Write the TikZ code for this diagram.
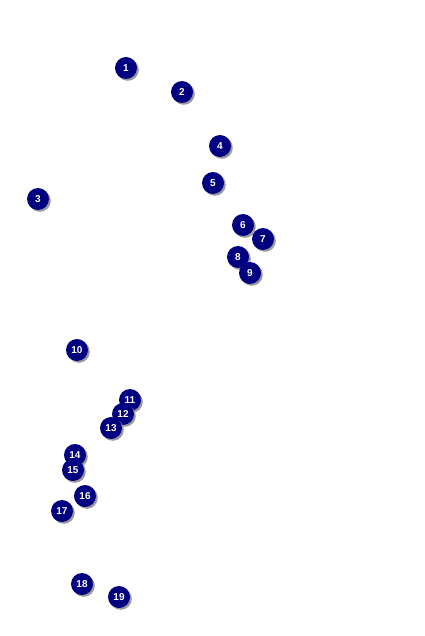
\documentclass[tikz,border=0pt]{standalone}
\usepackage{fontspec}
\setmainfont{Liberation Sans}
\definecolor{navy}{HTML}{000080}
\definecolor{shade}{HTML}{9A9A9A}
\usetikzlibrary{shadows}
\tikzset{
  marker/.style={circle, fill=navy, minimum size=22pt, inner sep=0pt,
    text=white, font=\fontsize{10}{10}\selectfont\bfseries,
    drop shadow={shadow xshift=1.8pt, shadow yshift=-1.8pt, fill=shade, opacity=1}}
}
\begin{document}
\begin{tikzpicture}[x=1pt,y=-1pt]
\useasboundingbox (0,0) rectangle (424,636);
\fill[white] (0,0) rectangle (424,636);
\node[marker] (n1) at (126,68) {1};
\node[marker] (n2) at (182,92) {2};
\node[marker] (n3) at (38,199) {3};
\node[marker] (n4) at (220,146) {4};
\node[marker] (n5) at (213,183) {5};
\node[marker] (n6) at (243,225) {6};
\node[marker] (n7) at (263,239) {7};
\node[marker] (n8) at (238,257) {8};
\node[marker] (n9) at (250,273) {9};
\node[marker] (n10) at (77,350) {10};
\node[marker] (n11) at (130,400) {11};
\node[marker] (n12) at (123,414) {12};
\node[marker] (n13) at (111,428) {13};
\node[marker] (n14) at (75,455) {14};
\node[marker] (n15) at (73,470) {15};
\node[marker] (n16) at (85,496) {16};
\node[marker] (n17) at (62,511) {17};
\node[marker] (n18) at (82,584) {18};
\node[marker] (n19) at (119,597) {19};
\end{tikzpicture}
\end{document}
